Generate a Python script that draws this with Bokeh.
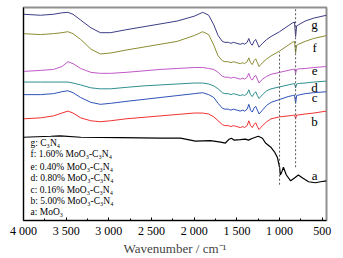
from bokeh.plotting import figure
from bokeh.models import Range1d, FixedTicker
from bokeh.core.properties import value
from bokeh.embed import file_html
from bokeh.resources import INLINE

# shared wavenumber grid for the C3N4-based spectra (cm-1)
wavenumber = [4000, 3800, 3650, 3550, 3480, 3420, 3330, 3210, 3100, 2980,
              2800, 2600, 2400, 2200, 2000, 1900, 1830, 1770, 1720, 1670,
              1640, 1600, 1570, 1540, 1500, 1460, 1430, 1410, 1380, 1360,
              1340, 1320, 1300, 1280, 1260, 1240, 1220, 1200, 1150, 1100,
              1000, 900, 850, 825, 812, 800, 780, 700, 600, 450]

# transmittance (a.u., offset)
g_c3n4 = [213, 212, 213, 214.5, 215, 213, 207, 199, 194, 194,
          197, 200, 203, 206, 211, 215, 212, 202, 191, 185,
          184, 184, 183, 184, 183, 182, 183, 182, 184, 188,
          183, 181, 185, 187, 183, 179, 181, 183, 187, 190,
          195, 201, 204, 205, 190, 201, 202, 206, 209, 212]
f_160 = [193, 192, 193, 194, 195, 193, 187, 177, 172, 173,
         176, 179, 182, 185, 191, 195, 192, 181, 170, 165,
         164, 164, 163, 164, 163, 162, 163, 162, 164, 168,
         163, 161, 165, 167, 163, 159, 161, 163, 167, 170,
         175, 181, 184, 185, 173, 181, 182, 185, 188, 191]
e_040 = [154, 155, 156, 159, 164, 162, 157, 153, 152, 152,
         153, 154.5, 156, 157, 158, 158, 157, 156, 153, 149,
         148, 148, 147, 148, 147, 146, 147, 146, 148, 152,
         147, 145, 148, 150, 146, 142, 144, 146, 149, 151,
         153, 155, 156, 156.5, 152, 156, 156.5, 157, 158, 159]
d_080 = [143, 143, 143, 143, 143, 142, 140, 137, 136, 136,
         137.5, 139, 140, 141, 142, 142, 141, 139, 136, 132,
         131, 131, 130, 131, 130, 129, 130, 129, 131, 135,
         130, 128, 131, 133, 129, 126, 128, 130, 134, 136,
         138, 140, 141, 141.5, 137, 141, 141.5, 142, 143, 144]
c_016 = [130, 130, 131, 133, 134, 132, 127, 122, 120, 121,
         123, 125, 127, 129, 131, 132, 130, 127, 121, 116,
         115, 115, 114, 115, 114, 113, 114, 113, 115, 120,
         114, 112, 116, 118, 114, 110, 112, 114, 119, 122,
         125, 128, 129, 129.5, 121, 129, 129.5, 131, 132, 133]
b_500 = [105, 106, 108, 111, 113, 111, 106, 103, 102, 103,
         105, 106.5, 108, 109.5, 111, 111, 110, 107, 103, 99,
         98, 98, 97, 98, 97, 96, 97, 96, 98, 103,
         98, 96, 99, 101, 97, 94, 96, 98, 102, 105,
         107, 108, 108.5, 109, 105, 109, 109, 110, 111, 113]

# MoO3 spectrum on its own grid
wavenumber_a = [4000, 3680, 3570, 3330, 2860, 2400, 2160, 1985, 1810, 1690,
                1635, 1590, 1565, 1530, 1460, 1400, 1365, 1315, 1250, 1200,
                1165, 1105, 1060, 1025, 1000, 990, 970, 955, 920, 870,
                825, 780, 730, 660, 580, 520, 450]
a_moo3 = [86, 87, 87.5, 86, 85.5, 85, 85, 82, 82.5, 81,
          80, 84, 85, 83, 83.5, 84, 83, 85, 87, 85,
          80, 76, 71, 65, 55, 47, 51, 55, 47, 41,
          44, 47, 44, 40, 39, 40, 41]

series_names = ["g", "f", "e", "d", "c", "b"]
series_colors = ["#3c3c86", "#8c8c34", "#c058c8", "#2f8f8f", "#2f52b8", "#f03232"]
label_y = [202, 179, 154, 137, 127, 102]
label_x = 590
a_label_y = 46

legend_lines = ["g: C\u2083N\u2084",
                "f: 1.60% MoO\u2083-C\u2083N\u2084",
                "e: 0.40% MoO\u2083-C\u2083N\u2084",
                "d: 0.80% MoO\u2083-C\u2083N\u2084",
                "c: 0.16% MoO\u2083-C\u2083N\u2084",
                "b: 5.00% MoO\u2083-C\u2083N\u2084",
                "a: MoO\u2083"]
legend_y = [80, 69, 55, 44, 32, 20, 9]
legend_x = 3918

# dashed reference lines (band positions, cm-1) and their extents
band_pos = [812, 1000]
band_top = [219, 174]
band_bottom = [55, 37]

major_ticks = [4000, 3500, 3000, 2500, 2000, 1500, 1000, 500]
minor_ticks = [3750, 3250, 2750, 2250, 1750, 1250, 750]
tick_labels = ["4 000", "3 500", "3 000", "2 500", "2 000", "1 500", "1 000", "500"]

FONT = "Liberation Serif"

p = figure(width=343, height=258, output_backend="svg", toolbar_location=None,
           x_range=Range1d(4000, 450), y_range=Range1d(0, 220),
           min_border_left=23, min_border_right=17, min_border_top=7,
           min_border_bottom=31)
p.grid.visible = False
p.outline_line_color = "#909090"
p.outline_line_width = 2
p.background_fill_color = "white"
p.border_fill_color = "white"

ys = [g_c3n4, f_160, e_040, d_080, c_016, b_500]
for y, col in zip(ys, series_colors):
    p.line(wavenumber, y, line_color=col, line_width=1)
p.line(wavenumber_a, a_moo3, line_color="black", line_width=1.2)

p.segment(x0=band_pos, y0=band_bottom, x1=band_pos, y1=band_top,
          line_color="#555555", line_width=1, line_dash="2 2")

p.text(x=[label_x] * 7, y=label_y + [a_label_y],
       text=series_names + ["a"], text_font=value(FONT),
       text_font_size="13px", text_align="center", text_baseline="middle",
       text_color="black")

p.text(x=[legend_x] * len(legend_lines), y=legend_y, text=legend_lines,
       text_font=value(FONT), text_font_size="9.5px", text_align="left",
       text_baseline="middle", text_color="black")

xa = p.xaxis[0]
xa.ticker = FixedTicker(ticks=major_ticks, minor_ticks=minor_ticks)
xa.major_label_overrides = {t: s for t, s in zip(major_ticks, tick_labels)}
xa.major_tick_in = 3
xa.major_tick_out = 0
xa.minor_tick_in = 2
xa.minor_tick_out = 0
xa.major_label_standoff = 3
xa.major_label_text_font = FONT
xa.major_label_text_font_size = "12px"
xa.major_label_text_color = "black"
xa.axis_label = "Wavenumber / cm\u207b\u00b9"
xa.axis_label_text_font = FONT
xa.axis_label_text_font_style = "normal"
xa.axis_label_text_font_size = "13px"
xa.axis_label_standoff = 0
xa.axis_line_color = "black"

ya = p.yaxis[0]
ya.ticker = FixedTicker(ticks=[], minor_ticks=[])
ya.major_tick_line_color = None
ya.minor_tick_line_color = None
ya.axis_line_color = "black"

open("out.html", "w").write(file_html(p, INLINE))
